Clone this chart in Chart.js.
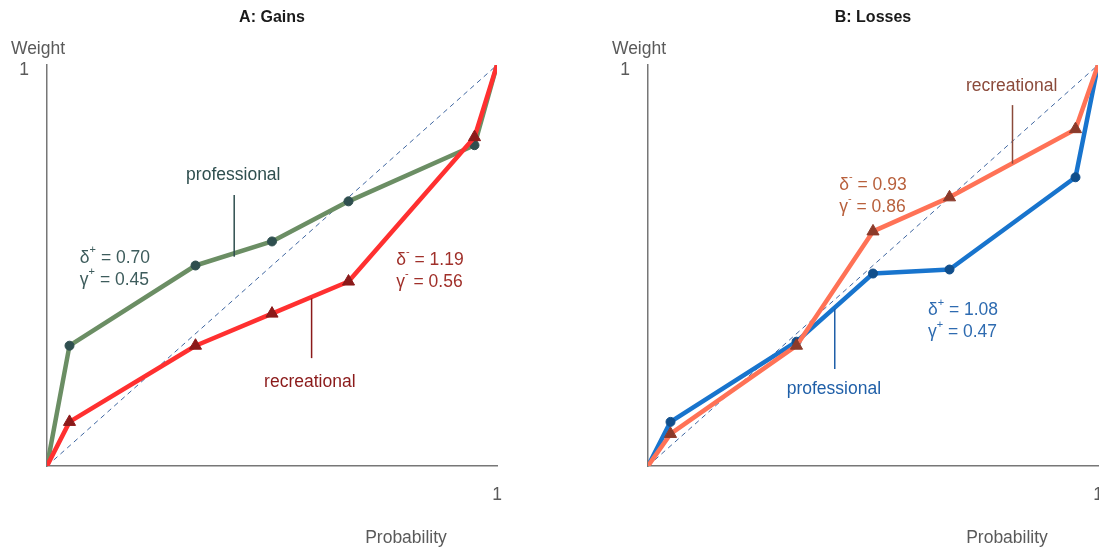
<!DOCTYPE html>
<html lang="en">
<head>
  <meta charset="UTF-8" />
  <title>Probability weighting: gains and losses</title>
  <script src="https://cdn.jsdelivr.net/npm/chart.js"></script>
  <style>
    html, body { margin: 0; padding: 0; background: #fff; overflow: hidden; width: 1099px; height: 552px; }
    .panel { position: absolute; top: 0; width: 549px; height: 552px; }
    #panelA { left: 0; }
    #panelB { left: 601px; }
  </style>
</head>
<body>
  <div class="panel" id="panelA"><canvas id="gainsChart" width="549" height="552"></canvas></div>
  <div class="panel" id="panelB"><canvas id="lossesChart" width="549" height="552"></canvas></div>

  <script>
    // probabilities at which decision weights were elicited
    const probabilities = [0, 0.05, 0.33, 0.5, 0.67, 0.95, 1];

    // A: gains
    const gainsProfessional = [0, 0.30, 0.50, 0.56, 0.66, 0.80, 1];
    const gainsRecreational = [0, 0.11, 0.30, 0.38, 0.46, 0.82, 1];

    // B: losses
    const lossesProfessional = [0, 0.11, 0.31, 0.48, 0.49, 0.72, 1];
    const lossesRecreational = [0, 0.08, 0.30, 0.585, 0.67, 0.84, 1];

    // identity line w(p) = p
    const diagonal = [0, 1];

    // axis ticks
    const xTicks = [1];
    const yTicks = [1];

    const FONT = '"Liberation Sans", Arial, sans-serif';
    const TEXT = '17.5px ' + FONT;

    // draws "δ+ = 0.70" style text with a small raised sign
    function drawParam(ctx, greek, sign, value, x, y) {
      ctx.textAlign = 'left';
      ctx.textBaseline = 'middle';
      ctx.font = TEXT;
      ctx.fillText(greek, x, y);
      const gw = ctx.measureText(greek).width;
      ctx.font = '11px ' + FONT;
      ctx.fillText(sign, x + gw, y - 8);
      const sw = ctx.measureText(sign).width;
      ctx.font = TEXT;
      ctx.fillText(' = ' + value, x + gw + sw, y);
    }

    // plugin for axis captions, series labels and fitted parameters
    function notesPlugin(notes) {
      return {
        id: 'notes',
        afterDatasetsDraw(chart) {
          const { ctx, chartArea, scales: { x, y } } = chart;
          ctx.save();
          ctx.fillStyle = '#5a5a5a';
          ctx.font = TEXT;
          ctx.textAlign = 'center';
          ctx.textBaseline = 'middle';
          ctx.fillText('Weight', chartArea.left - 9, 49);
          ctx.fillText('Probability', chartArea.left + 359, 538);

          notes.labels.forEach(l => {
            ctx.fillStyle = l.color;
            ctx.strokeStyle = l.color;
            ctx.font = TEXT;
            ctx.textAlign = 'center';
            ctx.fillText(l.text, x.getPixelForValue(l.x), y.getPixelForValue(l.y));
            ctx.lineWidth = 1.5;
            ctx.beginPath();
            ctx.moveTo(x.getPixelForValue(l.lineX), y.getPixelForValue(l.lineFrom));
            ctx.lineTo(x.getPixelForValue(l.lineX), y.getPixelForValue(l.lineTo));
            ctx.stroke();
          });

          notes.params.forEach(p => {
            ctx.fillStyle = p.color;
            const px = x.getPixelForValue(p.x);
            const py = y.getPixelForValue(p.y);
            drawParam(ctx, '\u03B4', p.sign, p.delta, px, py);
            drawParam(ctx, '\u03B3', p.sign, p.gamma, px, py + 22);
          });
          ctx.restore();
        }
      };
    }

    function toPoints(xs, ys) {
      return xs.map((p, i) => ({ x: p, y: ys[i] }));
    }

    const lastIndex = probabilities.length - 1;
    const innerOnly = r => c => (c.dataIndex === 0 || c.dataIndex === lastIndex) ? 0 : r;

    function makeChart(id, title, pro, rec, colors, notes) {
      return new Chart(document.getElementById(id), {
        type: 'scatter',
        data: {
          datasets: [
            {
              label: 'recreational',
              data: toPoints(probabilities, rec),
              showLine: true,
              borderColor: colors.recLine,
              borderWidth: 4.5,
              borderJoinStyle: 'round',
              pointStyle: 'triangle',
              pointRadius: innerOnly(7),
              pointBackgroundColor: colors.recMark,
              pointBorderColor: colors.recMark,
              pointBorderWidth: 1,
              order: 1
            },
            {
              label: 'professional',
              data: toPoints(probabilities, pro),
              showLine: true,
              borderColor: colors.proLine,
              borderWidth: 4.5,
              borderJoinStyle: 'round',
              pointStyle: 'circle',
              pointRadius: innerOnly(4.5),
              pointBackgroundColor: colors.proMark,
              pointBorderColor: colors.proMark,
              pointBorderWidth: 1,
              order: 2
            },
            {
              label: 'identity',
              data: toPoints(diagonal, diagonal),
              showLine: true,
              borderColor: '#3f66a0',
              borderWidth: 1,
              borderDash: [5, 4],
              pointRadius: 0,
              order: 3
            }
          ]
        },
        options: {
          responsive: false,
          animation: false,
          layout: { padding: { right: 52 } },
          plugins: {
            legend: { display: false },
            tooltip: { enabled: false },
            title: {
              display: true,
              text: title,
              fullSize: false,
              color: '#1a1a1a',
              font: { family: FONT, size: 16, weight: 'bold', lineHeight: 1.2 },
              padding: { top: 7.5, bottom: 38.3 }
            }
          },
          scales: {
            x: {
              type: 'linear',
              min: 0,
              max: 1,
              grid: { display: false, drawTicks: false },
              border: { display: true, color: '#777', width: 1.5 },
              ticks: { color: '#5a5a5a', font: { family: FONT, size: 17.5 }, padding: 19, maxRotation: 0 },
              afterBuildTicks: s => { s.ticks = xTicks.map(v => ({ value: v })); },
              afterFit: s => { s.height = 86; }
            },
            y: {
              type: 'linear',
              min: 0,
              max: 1,
              grid: { display: false, drawTicks: false },
              border: { display: true, color: '#777', width: 1.5 },
              ticks: { color: '#5a5a5a', font: { family: FONT, size: 17.5 }, padding: 18, labelOffset: 5 },
              afterBuildTicks: s => { s.ticks = yTicks.map(v => ({ value: v })); },
              afterFit: s => { s.width = 47; }
            }
          }
        },
        plugins: [notesPlugin(notes)]
      });
    }

    makeChart('gainsChart', 'A: Gains', gainsProfessional, gainsRecreational,
      { proLine: '#6b8e64', proMark: '#2f4f4f', recLine: '#ff3030', recMark: '#8b1a1a' },
      {
        labels: [
          { text: 'professional', x: 0.414, y: 0.726, color: '#2f4f4f', lineX: 0.416, lineFrom: 0.676, lineTo: 0.522 },
          { text: 'recreational', x: 0.584, y: 0.21, color: '#8b1a1a', lineX: 0.588, lineFrom: 0.418, lineTo: 0.269 }
        ],
        params: [
          { sign: '+', delta: '0.70', gamma: '0.45', x: 0.073, y: 0.519, color: '#3d5c5c' },
          { sign: '-', delta: '1.19', gamma: '0.56', x: 0.776, y: 0.514, color: '#a0302a' }
        ]
      });

    makeChart('lossesChart', 'B: Losses', lossesProfessional, lossesRecreational,
      { proLine: '#1874cd', proMark: '#104e8b', recLine: '#ff7256', recMark: '#8b3a2a' },
      {
        labels: [
          { text: 'recreational', x: 0.808, y: 0.946, color: '#8b4a3a', lineX: 0.81, lineFrom: 0.9, lineTo: 0.754 },
          { text: 'professional', x: 0.413, y: 0.192, color: '#1f5fa8', lineX: 0.415, lineFrom: 0.392, lineTo: 0.242 }
        ],
        params: [
          { sign: '-', delta: '0.93', gamma: '0.86', x: 0.425, y: 0.70, color: '#b8603c' },
          { sign: '+', delta: '1.08', gamma: '0.47', x: 0.622, y: 0.3875, color: '#2e6bb0' }
        ]
      });
  </script>
</body>
</html>
